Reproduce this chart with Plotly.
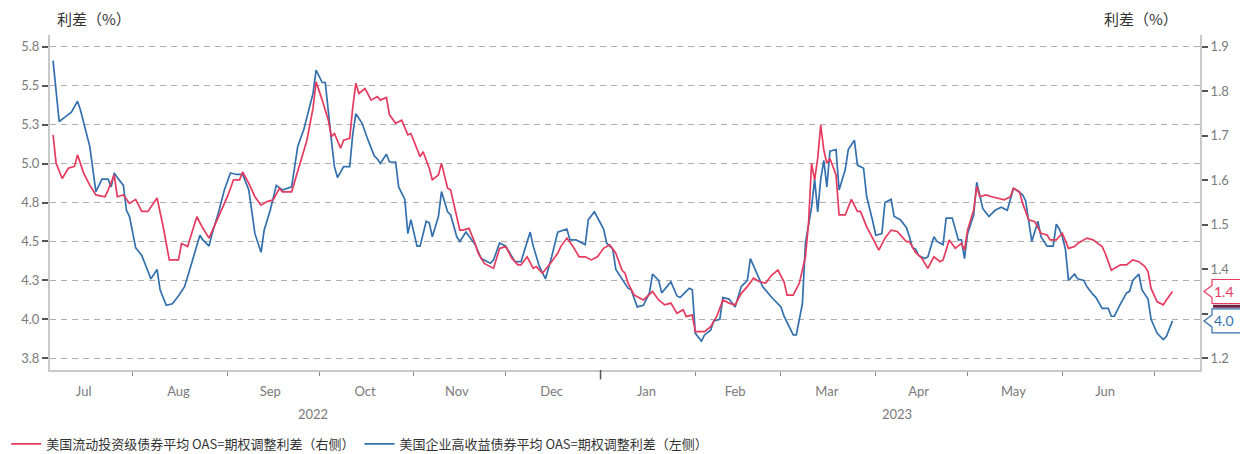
import plotly.graph_objects as go

# ---------------- data ----------------
blue_name = "美国企业高收益债券平均 OAS=期权调整利差（左侧）"
red_name = "美国流动投资级债券平均 OAS=期权调整利差（右侧）"

blue_dates = [
    "2022-07-06", "2022-07-07", "2022-07-08", "2022-07-10", "2022-07-12", "2022-07-14", "2022-07-15",
    "2022-07-18", "2022-07-20", "2022-07-22", "2022-07-24", "2022-07-25", "2022-07-26", "2022-07-27",
    "2022-07-29", "2022-07-30", "2022-07-31", "2022-08-02", "2022-08-04", "2022-08-05", "2022-08-07",
    "2022-08-09", "2022-08-10", "2022-08-12", "2022-08-14", "2022-08-16", "2022-08-18", "2022-08-20",
    "2022-08-23", "2022-08-24", "2022-08-26", "2022-08-27", "2022-08-29", "2022-08-31", "2022-09-02",
    "2022-09-04", "2022-09-06", "2022-09-08", "2022-09-10", "2022-09-12", "2022-09-13", "2022-09-15",
    "2022-09-17", "2022-09-19", "2022-09-22", "2022-09-24", "2022-09-26", "2022-09-29", "2022-09-30",
    "2022-10-02", "2022-10-03", "2022-10-05", "2022-10-06", "2022-10-07", "2022-10-09", "2022-10-11",
    "2022-10-12", "2022-10-13", "2022-10-15", "2022-10-17", "2022-10-19", "2022-10-20", "2022-10-21",
    "2022-10-23", "2022-10-24", "2022-10-26", "2022-10-27", "2022-10-29", "2022-10-30", "2022-10-31",
    "2022-11-02", "2022-11-03", "2022-11-05", "2022-11-06", "2022-11-07", "2022-11-09", "2022-11-10",
    "2022-11-12", "2022-11-13", "2022-11-15", "2022-11-16", "2022-11-18", "2022-11-21", "2022-11-23",
    "2022-11-26", "2022-11-27", "2022-11-29", "2022-12-01", "2022-12-03", "2022-12-04", "2022-12-06",
    "2022-12-09", "2022-12-10", "2022-12-12", "2022-12-14", "2022-12-16", "2022-12-18", "2022-12-21",
    "2022-12-22", "2022-12-24", "2022-12-27", "2022-12-28", "2022-12-30", "2023-01-02", "2023-01-03",
    "2023-01-05", "2023-01-06", "2023-01-09", "2023-01-10", "2023-01-11", "2023-01-13", "2023-01-15",
    "2023-01-17", "2023-01-18", "2023-01-20", "2023-01-21", "2023-01-24", "2023-01-26", "2023-01-27",
    "2023-01-29", "2023-01-30", "2023-01-31", "2023-02-01", "2023-02-03", "2023-02-04", "2023-02-06",
    "2023-02-07", "2023-02-09", "2023-02-10", "2023-02-12", "2023-02-14", "2023-02-16", "2023-02-18",
    "2023-02-19", "2023-02-21", "2023-02-23", "2023-02-26", "2023-03-01", "2023-03-02", "2023-03-05",
    "2023-03-06", "2023-03-08", "2023-03-09", "2023-03-11", "2023-03-12", "2023-03-13", "2023-03-14",
    "2023-03-15", "2023-03-16", "2023-03-17", "2023-03-19", "2023-03-20", "2023-03-22", "2023-03-23",
    "2023-03-25", "2023-03-26", "2023-03-28", "2023-03-29", "2023-03-31", "2023-04-01", "2023-04-03",
    "2023-04-04", "2023-04-06", "2023-04-07", "2023-04-09", "2023-04-11", "2023-04-12", "2023-04-13",
    "2023-04-14", "2023-04-15", "2023-04-17", "2023-04-18", "2023-04-20", "2023-04-21", "2023-04-23",
    "2023-04-24", "2023-04-26", "2023-04-28", "2023-04-29", "2023-04-30", "2023-05-01", "2023-05-03",
    "2023-05-04", "2023-05-06", "2023-05-08", "2023-05-10", "2023-05-12", "2023-05-14", "2023-05-16",
    "2023-05-17", "2023-05-19", "2023-05-20", "2023-05-22", "2023-05-23", "2023-05-24", "2023-05-25",
    "2023-05-27", "2023-05-29", "2023-05-30", "2023-05-31", "2023-06-01", "2023-06-02", "2023-06-03",
    "2023-06-05", "2023-06-06", "2023-06-08", "2023-06-09", "2023-06-11", "2023-06-12", "2023-06-14",
    "2023-06-16", "2023-06-17", "2023-06-18", "2023-06-20", "2023-06-22", "2023-06-23", "2023-06-24",
    "2023-06-26", "2023-06-27", "2023-06-29", "2023-06-30", "2023-07-02", "2023-07-04", "2023-07-05",
    "2023-07-07",
]
blue_values = [
    5.66, 5.47, 5.27, 5.30, 5.33, 5.40, 5.34,
    5.11, 4.82, 4.90, 4.90, 4.85, 4.94, 4.91,
    4.86, 4.70, 4.66, 4.46, 4.41, 4.36, 4.26,
    4.32, 4.19, 4.09, 4.10, 4.15, 4.21, 4.34,
    4.54, 4.51, 4.47, 4.55, 4.68, 4.83, 4.94,
    4.93, 4.93, 4.83, 4.55, 4.43, 4.57, 4.70,
    4.86, 4.83, 4.85, 5.11, 5.22, 5.45, 5.60,
    5.52, 5.52, 5.15, 4.98, 4.91, 4.98, 4.98,
    5.19, 5.32, 5.26, 5.15, 5.05, 5.03, 5.00,
    5.06, 5.01, 5.01, 4.85, 4.77, 4.55, 4.64,
    4.47, 4.47, 4.63, 4.62, 4.53, 4.66, 4.82,
    4.69, 4.67, 4.53, 4.50, 4.56, 4.48, 4.39,
    4.36, 4.38, 4.49, 4.47, 4.40, 4.37, 4.37,
    4.56, 4.47, 4.34, 4.26, 4.40, 4.56, 4.58,
    4.51, 4.51, 4.48, 4.64, 4.69, 4.58, 4.49,
    4.45, 4.32, 4.23, 4.20, 4.19, 4.08, 4.09,
    4.17, 4.29, 4.25, 4.17, 4.24, 4.15, 4.14,
    4.18, 4.20, 4.19, 3.91, 3.86, 3.90, 3.93,
    3.99, 4.00, 4.14, 4.13, 4.08, 4.21, 4.25,
    4.39, 4.30, 4.21, 4.14, 4.08, 4.02, 3.90,
    3.90, 4.10, 4.49, 4.72, 4.90, 4.69, 4.90,
    5.02, 4.85, 5.08, 5.09, 4.83, 4.96, 5.09,
    5.15, 4.99, 4.97, 4.79, 4.63, 4.54, 4.55,
    4.75, 4.77, 4.66, 4.64, 4.59, 4.53, 4.46,
    4.45, 4.41, 4.39, 4.40, 4.53, 4.50, 4.48,
    4.65, 4.65, 4.51, 4.51, 4.39, 4.55, 4.67,
    4.88, 4.71, 4.66, 4.70, 4.72, 4.70, 4.84,
    4.83, 4.80, 4.76, 4.50, 4.56, 4.63, 4.53,
    4.47, 4.47, 4.61, 4.58, 4.53, 4.45, 4.25,
    4.29, 4.26, 4.25, 4.21, 4.16, 4.14, 4.07,
    4.07, 4.02, 4.02, 4.10, 4.17, 4.18, 4.25,
    4.29, 4.19, 4.13, 4.00, 3.91, 3.87, 3.89,
    3.99,
]

red_dates = [
    "2022-07-06", "2022-07-07", "2022-07-09", "2022-07-11", "2022-07-13", "2022-07-14", "2022-07-16",
    "2022-07-18", "2022-07-20", "2022-07-23", "2022-07-24", "2022-07-26", "2022-07-27", "2022-07-29",
    "2022-07-31", "2022-08-02", "2022-08-04", "2022-08-06", "2022-08-09", "2022-08-11", "2022-08-13",
    "2022-08-16", "2022-08-17", "2022-08-19", "2022-08-22", "2022-08-24", "2022-08-26", "2022-08-28",
    "2022-08-30", "2022-09-01", "2022-09-03", "2022-09-05", "2022-09-06", "2022-09-08", "2022-09-10",
    "2022-09-12", "2022-09-14", "2022-09-16", "2022-09-18", "2022-09-19", "2022-09-22", "2022-09-24",
    "2022-09-27", "2022-09-29", "2022-09-30", "2022-10-02", "2022-10-04", "2022-10-05", "2022-10-06",
    "2022-10-08", "2022-10-09", "2022-10-11", "2022-10-12", "2022-10-13", "2022-10-14", "2022-10-16",
    "2022-10-18", "2022-10-20", "2022-10-21", "2022-10-23", "2022-10-24", "2022-10-26", "2022-10-28",
    "2022-10-30", "2022-10-31", "2022-11-03", "2022-11-04", "2022-11-06", "2022-11-07", "2022-11-09",
    "2022-11-10", "2022-11-12", "2022-11-13", "2022-11-16", "2022-11-17", "2022-11-19", "2022-11-21",
    "2022-11-22", "2022-11-24", "2022-11-27", "2022-11-29", "2022-12-01", "2022-12-03", "2022-12-05",
    "2022-12-06", "2022-12-08", "2022-12-10", "2022-12-11", "2022-12-13", "2022-12-16", "2022-12-18",
    "2022-12-19", "2022-12-21", "2022-12-23", "2022-12-25", "2022-12-27", "2022-12-29", "2022-12-31",
    "2023-01-02", "2023-01-04", "2023-01-06", "2023-01-08", "2023-01-09", "2023-01-10", "2023-01-11",
    "2023-01-12", "2023-01-15", "2023-01-18", "2023-01-20", "2023-01-22", "2023-01-24", "2023-01-26",
    "2023-01-28", "2023-01-29", "2023-01-31", "2023-02-01", "2023-02-04", "2023-02-06", "2023-02-08",
    "2023-02-10", "2023-02-12", "2023-02-14", "2023-02-16", "2023-02-18", "2023-02-20", "2023-02-22",
    "2023-02-24", "2023-02-26", "2023-02-28", "2023-03-02", "2023-03-03", "2023-03-05", "2023-03-07",
    "2023-03-09", "2023-03-10", "2023-03-11", "2023-03-12", "2023-03-13", "2023-03-14", "2023-03-15",
    "2023-03-16", "2023-03-17", "2023-03-19", "2023-03-20", "2023-03-22", "2023-03-24", "2023-03-26",
    "2023-03-27", "2023-03-29", "2023-03-31", "2023-04-02", "2023-04-04", "2023-04-06", "2023-04-08",
    "2023-04-11", "2023-04-12", "2023-04-14", "2023-04-16", "2023-04-18", "2023-04-20", "2023-04-22",
    "2023-04-23", "2023-04-25", "2023-04-27", "2023-04-29", "2023-04-30", "2023-05-01", "2023-05-03",
    "2023-05-04", "2023-05-05", "2023-05-07", "2023-05-09", "2023-05-11", "2023-05-13", "2023-05-15",
    "2023-05-16", "2023-05-18", "2023-05-19", "2023-05-21", "2023-05-23", "2023-05-25", "2023-05-27",
    "2023-05-28", "2023-05-30", "2023-06-01", "2023-06-03", "2023-06-05", "2023-06-06", "2023-06-09",
    "2023-06-11", "2023-06-14", "2023-06-15", "2023-06-17", "2023-06-20", "2023-06-22", "2023-06-24",
    "2023-06-26", "2023-06-28", "2023-06-29", "2023-06-30", "2023-07-02", "2023-07-04", "2023-07-05",
    "2023-07-07",
]
red_values = [
    1.702, 1.638, 1.604, 1.627, 1.631, 1.657, 1.616,
    1.589, 1.567, 1.563, 1.578, 1.612, 1.563, 1.567,
    1.548, 1.557, 1.530, 1.530, 1.560, 1.496, 1.421,
    1.421, 1.458, 1.451, 1.518, 1.492, 1.470, 1.500,
    1.533, 1.563, 1.601, 1.601, 1.619, 1.593, 1.563,
    1.544, 1.552, 1.556, 1.582, 1.574, 1.574, 1.619,
    1.690, 1.762, 1.821, 1.780, 1.735, 1.698, 1.705,
    1.672, 1.690, 1.694, 1.765, 1.818, 1.795, 1.806,
    1.780, 1.788, 1.780, 1.786, 1.747, 1.728, 1.735,
    1.702, 1.705, 1.653, 1.664, 1.627, 1.601, 1.612,
    1.638, 1.582, 1.578, 1.488, 1.488, 1.492, 1.458,
    1.436, 1.413, 1.402, 1.447, 1.451, 1.425, 1.410,
    1.410, 1.428, 1.402, 1.406, 1.391, 1.417, 1.436,
    1.451, 1.470, 1.451, 1.428, 1.428, 1.421, 1.428,
    1.447, 1.455, 1.436, 1.398, 1.391, 1.369, 1.357,
    1.342, 1.331, 1.350, 1.331, 1.320, 1.324, 1.301,
    1.309, 1.294, 1.297, 1.260, 1.260, 1.271, 1.294,
    1.331, 1.324, 1.320, 1.346, 1.361, 1.380, 1.372,
    1.369, 1.387, 1.398, 1.372, 1.342, 1.342, 1.369,
    1.428, 1.503, 1.638, 1.601, 1.649, 1.724, 1.668,
    1.638, 1.649, 1.612, 1.522, 1.522, 1.557, 1.530,
    1.530, 1.496, 1.470, 1.443, 1.470, 1.488, 1.485,
    1.462, 1.462, 1.438, 1.425, 1.402, 1.428, 1.417,
    1.421, 1.466, 1.447, 1.458, 1.443, 1.488, 1.533,
    1.586, 1.563, 1.567, 1.563, 1.559, 1.556, 1.563,
    1.582, 1.574, 1.548, 1.511, 1.507, 1.481, 1.477,
    1.466, 1.466, 1.481, 1.447, 1.451, 1.458, 1.470,
    1.466, 1.451, 1.436, 1.398, 1.410, 1.410, 1.421,
    1.417, 1.406, 1.395, 1.357, 1.327, 1.320, 1.331,
    1.350,
]

month_labels = ["Jul", "Aug", "Sep", "Oct", "Nov", "Dec", "Jan", "Feb", "Mar", "Apr", "May", "Jun"]
month_label_dates = ["2022-07-16", "2022-08-16", "2022-09-15", "2022-10-16", "2022-11-15", "2022-12-16",
                     "2023-01-16", "2023-02-14", "2023-03-16", "2023-04-15", "2023-05-16", "2023-06-15"]
month_start_dates = ["2022-08-01", "2022-09-01", "2022-10-01", "2022-11-01", "2022-12-01", "2023-01-01",
                     "2023-02-01", "2023-03-01", "2023-04-01", "2023-05-01", "2023-06-01", "2023-07-01"]
year_labels = ["2022", "2023"]
year_label_dates = ["2022-09-29", "2023-04-08"]

left_tick_vals = [3.75, 4.0, 4.25, 4.5, 4.75, 5.0, 5.25, 5.5, 5.75]
left_tick_text = ["3.8", "4.0", "4.3", "4.5", "4.8", "5.0", "5.3", "5.5", "5.8"]
right_tick_vals = [1.2, 1.3, 1.4, 1.5, 1.6, 1.7, 1.8, 1.9]
right_tick_text = ["1.2", "", "1.4", "1.5", "1.6", "1.7", "1.8", "1.9"]  # 1.3 sits under the callouts

# ---------------- style ----------------
RED = "#E63A5E"
BLUE = "#3370AD"
GRID = "#AFAFAF"
AXIS = "#C9C9C9"
TICKFONT = dict(family="Lato, Noto Sans, sans-serif", size=13, color="#7A7A7A")
CJK = "Noto Sans CJK SC"

y_range = [3.675, 5.825]
y2_range = [1.1737, 1.9263]
x_range = ["2022-07-05", "2023-07-16"]

fig = go.Figure()
fig.add_trace(go.Scatter(x=red_dates, y=red_values, name=red_name, yaxis="y2",
                         mode="lines", line=dict(color=RED, width=1.7)))
fig.add_trace(go.Scatter(x=blue_dates, y=blue_values, name=blue_name, yaxis="y",
                         mode="lines", line=dict(color=BLUE, width=1.7)))

fig.update_layout(
    width=1240, height=454,
    margin=dict(l=50, r=40, t=35, b=84),
    paper_bgcolor="white", plot_bgcolor="white",
    font=dict(family=CJK, size=12, color="#333333"),
    showlegend=True,
    legend=dict(orientation="h", xref="container", yref="container", x=0.005, y=0.022,
                xanchor="left", yanchor="middle", font=dict(family=CJK, size=13, color="#333333"),
                itemwidth=30, tracegroupgap=0, bgcolor="rgba(0,0,0,0)"),
    xaxis=dict(
        type="date", range=x_range, showgrid=False, zeroline=False,
        showline=True, linecolor=AXIS, linewidth=2,
        tickmode="array", tickvals=month_label_dates, ticktext=month_labels,
        ticks="", tickfont=TICKFONT, ticklabelstandoff=8,
        minor=dict(tickmode="array", tickvals=month_start_dates, ticks="outside",
                   ticklen=4, tickwidth=1, tickcolor="#888888", showgrid=False),
    ),
    yaxis=dict(
        range=y_range, tickmode="array", tickvals=left_tick_vals, ticktext=left_tick_text,
        showgrid=True, gridcolor=GRID, gridwidth=1.2, griddash="6px,5px",
        zeroline=False, showline=True, linecolor=AXIS, linewidth=2,
        ticks="outside", ticklen=6, tickwidth=1.5, tickcolor="#555555", tickfont=TICKFONT,
    ),
    yaxis2=dict(
        range=y2_range, overlaying="y", side="right", tickmode="array",
        tickvals=right_tick_vals, ticktext=right_tick_text, showgrid=False, zeroline=False,
        showline=True, linecolor=AXIS, linewidth=2,
        ticks="outside", ticklen=6, tickwidth=1.5, tickcolor="#555555", tickfont=TICKFONT,
    ),
)

# axis titles
fig.add_annotation(text="利差（%）", xref="paper", yref="paper", x=0.0043, y=1.0507,
                   xanchor="left", yanchor="middle", showarrow=False,
                   font=dict(family=CJK, size=15, color="#333333"))
fig.add_annotation(text="利差（%）", xref="paper", yref="paper", x=0.9826, y=1.0507,
                   xanchor="right", yanchor="middle", showarrow=False,
                   font=dict(family=CJK, size=15, color="#333333"))

# year labels
for lbl, d in zip(year_labels, year_label_dates):
    fig.add_annotation(text=lbl, xref="x", yref="paper", x=d, y=-0.131, xanchor="center",
                       yanchor="middle", showarrow=False, font=TICKFONT)

# year boundary tick
fig.add_shape(type="line", xref="x", yref="paper", x0="2023-01-01", x1="2023-01-01",
              y0=0, y1=-0.028, line=dict(color="#555555", width=1.5))

# end-value callouts
callout_path = "M4,0 L12,6 L12,12 L48,12 L48,-12 L12,-12 L12,-6 Z"
red_last = red_values[-1]
blue_last = blue_values[-1]
red_frac = (red_last - y2_range[0]) / (y2_range[1] - y2_range[0])
blue_frac = (blue_last - y_range[0]) / (y_range[1] - y_range[0])
for frac, col in ((red_frac, RED), (blue_frac, BLUE)):
    fig.add_shape(type="path", xref="paper", yref="paper", xsizemode="pixel", ysizemode="pixel",
                  xanchor=1, yanchor=frac, path=callout_path, fillcolor="white",
                  line=dict(color=col, width=1.2), layer="above")
fig.add_shape(type="line", xref="paper", yref="paper", xsizemode="pixel", ysizemode="pixel",
              xanchor=1, yanchor=(red_frac + blue_frac) / 2, x0=13, x1=48, y0=0, y1=0,
              line=dict(color="#6B1E40", width=3), layer="above")
fig.add_annotation(text=f"{red_last:.1f}", xref="paper", yref="y2", x=1, y=red_last,
                   xanchor="left", yanchor="middle", xshift=12, showarrow=False,
                   font=dict(family="Lato, sans-serif", size=14, color=RED))
fig.add_annotation(text=f"{blue_last:.1f}", xref="paper", yref="y", x=1, y=blue_last,
                   xanchor="left", yanchor="middle", xshift=12, showarrow=False,
                   font=dict(family="Lato, sans-serif", size=14, color=BLUE))

fig.write_html("out.html")
